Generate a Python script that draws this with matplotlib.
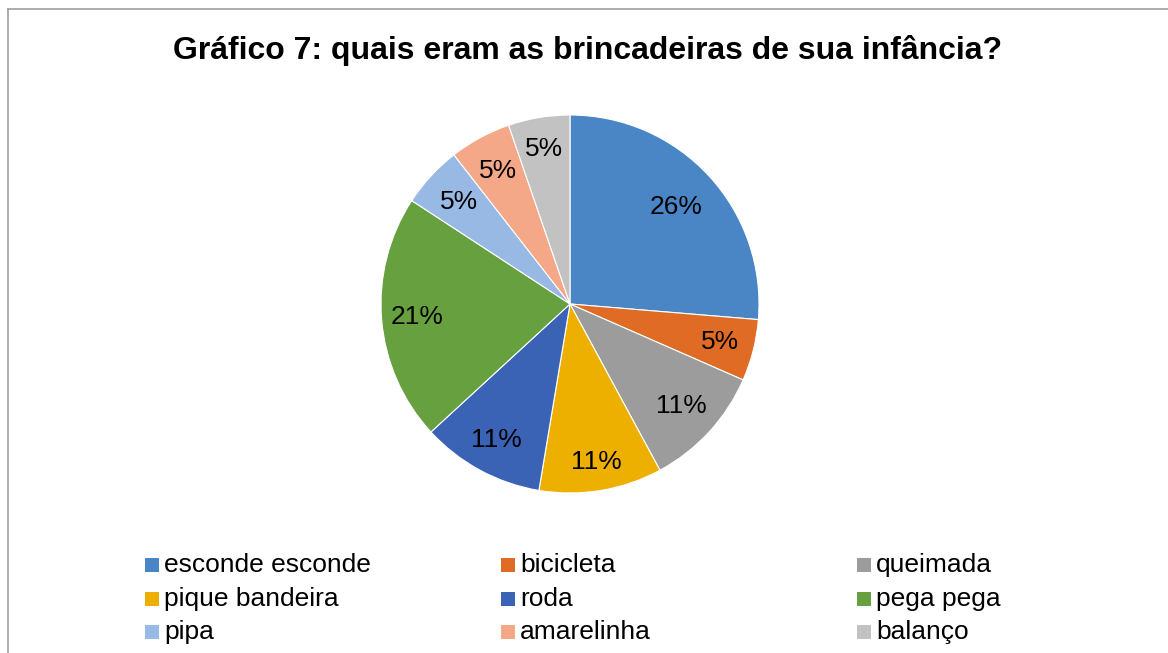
import matplotlib.pyplot as plt
import numpy as np
from matplotlib.patches import Rectangle
from matplotlib.lines import Line2D

plt.rcParams['font.family'] = ['Liberation Sans', 'DejaVu Sans']

# Data (respostas -> percentuais)
categories = ['esconde esconde', 'bicicleta', 'queimada', 'pique bandeira', 'roda',
              'pega pega', 'pipa', 'amarelinha', 'balanço']
counts = [5, 1, 2, 2, 2, 4, 1, 1, 1]
colors = ['#4A86C5', '#E06B25', '#9C9C9C', '#EEB000', '#3B63B5',
          '#67A03F', '#97B9E3', '#F4A888', '#C2C2C2']
# label distance from centre (fraction of radius), like Excel's best fit
label_dist = [0.76, 0.82, 0.80, 0.85, 0.82, 0.81, 0.80, 0.80, 0.83]

W, H = 1168, 653
fig = plt.figure(figsize=(W / 100, H / 100), dpi=100)

# pie axes: center (570, 304), radius 189 px
cx, cy, r = 570, 304, 189
ax = fig.add_axes([(cx - r) / W, (H - cy - r) / H, 2 * r / W, 2 * r / H])
wedges, texts, autotexts = ax.pie(
    counts, colors=colors, startangle=90, counterclock=False,
    autopct=lambda p: f'{p:.0f}%', pctdistance=0.8, radius=1,
    wedgeprops=dict(edgecolor='white', linewidth=0.8),
    textprops=dict(fontsize=19, color='black'))
for w, t, d in zip(wedges, autotexts, label_dist):
    ang = np.deg2rad((w.theta1 + w.theta2) / 2)
    t.set_position((d * np.cos(ang), d * np.sin(ang)))
ax.set_xlim(-1, 1)
ax.set_ylim(-1, 1)

# title
fig.text(588 / W, 1 - 51 / H, 'Gráfico 7: quais eram as brincadeiras de sua infância?',
         ha='center', va='center', fontsize=23, fontweight='bold')

# chart border (top and left only visible)
fig.add_artist(Line2D([8 / W, 1], [1 - 9 / H, 1 - 9 / H], color='#A0A0A0', lw=1.2))
fig.add_artist(Line2D([8 / W, 8 / W], [0, 1 - 9 / H], color='#A0A0A0', lw=1.2))

# legend, row-major, 3 columns
col_x = [152, 508, 864]
row_y = [565, 599, 632]
sq = 14
for i, (name, c) in enumerate(zip(categories, colors)):
    x = col_x[i % 3]
    y = row_y[i // 3]
    fig.add_artist(Rectangle(((x - sq / 2) / W, (H - y - sq / 2) / H), sq / W, sq / H,
                             facecolor=c, edgecolor='none'))
    fig.text((x + 12) / W, 1 - y / H, name, ha='left', va='center', fontsize=19)

fig.savefig('out.png', dpi=100)
